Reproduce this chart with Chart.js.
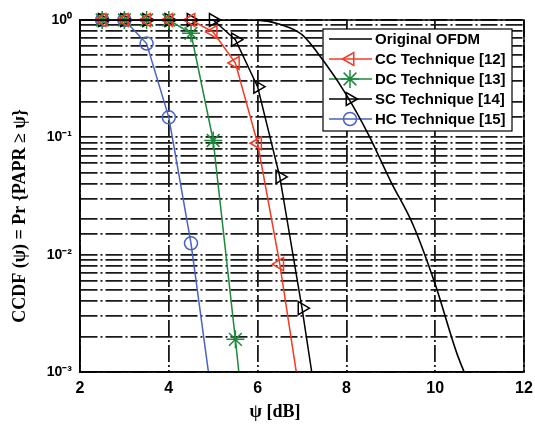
<!DOCTYPE html>
<html>
<head>
<meta charset="utf-8">
<script src="https://cdn.jsdelivr.net/npm/chart.js@4.4.0/dist/chart.umd.min.js"></script>
<style>
    html, body { margin: 0; padding: 0; background: #fff; }
    #wrap { width: 535px; height: 424px; position: relative; }
</style>
</head>
<body>
<div id="wrap"><canvas id="ccdfChart"></canvas></div>
<script>
// values (psi in dB, CCDF on log scale)
const psiMarkers = [2.5, 3, 3.5, 4, 4.5, 5, 5.5, 6, 6.5, 7, 7.5];
const ccValues = [1, 1, 1, 1, 1, 0.79, 0.43, 0.089, 0.0083, 0.00048, null];
const dcValues = [1, 1, 1, 1, 0.77, 0.094, 0.0019, 0.00003, null, null, null];
const scValues = [1, 1, 1, 1, 1, 1, 0.68, 0.27, 0.046, 0.0035, 0.0002];
const hcValues = [1, 1, 0.63, 0.148, 0.0125, 0.0005, null, null, null, null, null];

const psiOfdm = [2, 2.5, 3, 3.5, 4, 4.5, 5, 5.5, 6, 6.5, 7, 7.5, 8, 8.5, 9, 9.5, 10, 10.5, 11];
const ofdmValues = [1, 1, 1, 1, 1, 1, 1, 1, 0.995, 0.92, 0.75, 0.44, 0.23, 0.105, 0.042, 0.018, 0.0056, 0.0014, 0.0005];

const xTicks = [2, 4, 6, 8, 10, 12];
const yRange = [0.001, 1];
const seriesLabels = ['Original OFDM', 'CC Technique [12]', 'DC Technique [13]', 'SC Technique [14]', 'HC Technique [15]'];
const xTitle = 'ψ [dB]';
const yTitle = 'CCDF (ψ) = Pr {PAPR ≥ ψ}';

const RED = '#f53a24';
const GREEN = '#1f8a3c';
const BLUE = '#4b62c6';

function toPoints(xs, ys) {
    return xs.map((x, i) => ({ x: x, y: ys[i] }));
}

const supDigits = { '0': '⁰', '1': '¹', '2': '²', '3': '³', '-': '⁻' };
function powerLabel(value) {
    const e = Math.round(Math.log10(value) * 1e6) / 1e6;
    if (!Number.isInteger(e)) return '';
    return '10' + String(e).split('').map(c => supDigits[c]).join('');
}

const markerClip = { left: false, top: false, right: 0, bottom: 0 };

function markerSeries(label, values, color, style, rotation, radius) {
    return {
        label: label,
        data: toPoints(psiMarkers, values),
        borderColor: color,
        borderWidth: 1.5,
        pointStyle: style,
        rotation: rotation,
        pointRadius: radius,
        pointBorderWidth: 1.5,
        pointBorderColor: color,
        pointBackgroundColor: 'rgba(0,0,0,0)',
        clip: markerClip
    };
}

// legend drawn inside the axes, under the curves (as in the figure)
const legendBox = {
    id: 'legendBox',
    beforeDatasetsDraw(chart) {
        const ctx = chart.ctx;
        const area = chart.chartArea;
        const x0 = area.right - 201, y0 = area.top + 9, w = 189, h = 102;
        ctx.save();
        ctx.fillStyle = '#fff';
        ctx.fillRect(x0, y0, w, h);
        ctx.strokeStyle = '#000';
        ctx.lineWidth = 1.2;
        ctx.strokeRect(x0, y0, w, h);
        ctx.font = 'bold 15px "Liberation Sans", Arial, sans-serif';
        ctx.textBaseline = 'middle';
        chart.data.datasets.forEach((ds, i) => {
            const y = y0 + 10 + i * 20;
            ctx.strokeStyle = ds.borderColor;
            ctx.lineWidth = 1.5;
            ctx.beginPath();
            ctx.moveTo(x0 + 6, y);
            ctx.lineTo(x0 + 49, y);
            ctx.stroke();
            if (ds.pointRadius > 0) {
                ctx.fillStyle = 'rgba(0,0,0,0)';
                Chart.helpers.drawPoint(ctx, {
                    pointStyle: ds.pointStyle,
                    rotation: ds.rotation,
                    radius: ds.pointRadius,
                    borderWidth: 1.5
                }, x0 + 27, y);
            }
            ctx.fillStyle = '#000';
            ctx.fillText(ds.label, x0 + 52, y + 1);
        });
        ctx.restore();
    }
};

const frameAndTitles = {
    id: 'frameAndTitles',
    afterDraw(chart) {
        const ctx = chart.ctx;
        const area = chart.chartArea;
        ctx.save();
        ctx.strokeStyle = '#000';
        ctx.lineWidth = 1.5;
        ctx.strokeRect(area.left, area.top, area.right - area.left, area.bottom - area.top);
        ctx.fillStyle = '#000';
        ctx.font = 'bold 18px "Liberation Serif", "Times New Roman", serif';
        ctx.textAlign = 'center';
        ctx.textBaseline = 'middle';
        ctx.fillText(xTitle, 275, 412);
        ctx.translate(20, 216);
        ctx.rotate(-Math.PI / 2);
        ctx.fillText(yTitle, 0, 0);
        ctx.restore();
    }
};

const gridStyle = {
    color: '#1a1a1a',
    lineWidth: 1.8,
    drawTicks: false
};
const borderStyle = {
    color: '#000',
    width: 1.5,
    dash: [17, 3, 2, 3]
};

const ctx = document.getElementById('ccdfChart').getContext('2d');

const ccdfChart = new Chart(ctx, {
    type: 'line',
    data: {
        datasets: [
            {
                label: seriesLabels[0],
                data: toPoints(psiOfdm, ofdmValues),
                borderColor: '#000',
                borderWidth: 1.6,
                pointRadius: 0,
                cubicInterpolationMode: 'monotone',
                clip: 0
            },
            markerSeries(seriesLabels[1], ccValues, RED, 'triangle', -90, 7.5),
            markerSeries(seriesLabels[2], dcValues, GREEN, 'star', 0, 9),
            markerSeries(seriesLabels[3], scValues, '#000', 'triangle', 90, 7.5),
            markerSeries(seriesLabels[4], hcValues, BLUE, 'circle', 0, 6.5)
        ]
    },
    options: {
        responsive: true,
        maintainAspectRatio: false,
        animation: false,
        layout: {
            padding: { top: 20, right: 11, bottom: 0, left: 0 }
        },
        plugins: {
            legend: { display: false },
            tooltip: { enabled: false }
        },
        scales: {
            x: {
                type: 'linear',
                min: xTicks[0],
                max: xTicks[xTicks.length - 1],
                ticks: {
                    stepSize: 2,
                    color: '#000',
                    padding: 7,
                    maxRotation: 0,
                    font: { family: '"Liberation Sans", Arial, sans-serif', size: 16, weight: 'bold' }
                },
                grid: gridStyle,
                border: borderStyle,
                afterFit: function (scale) {
                    scale.height = 52;
                    scale.paddingLeft = 0;
                    scale.paddingRight = 0;
                }
            },
            y: {
                type: 'logarithmic',
                min: yRange[0],
                max: yRange[1],
                ticks: {
                    autoSkip: false,
                    color: '#000',
                    padding: 8,
                    font: { family: '"Liberation Sans", Arial, sans-serif', size: 14, weight: 'bold' },
                    callback: function (value) {
                        return powerLabel(value);
                    }
                },
                grid: gridStyle,
                border: borderStyle,
                afterFit: function (scale) {
                    scale.width = 80;
                    scale.paddingTop = 0;
                    scale.paddingBottom = 0;
                }
            }
        }
    },
    plugins: [legendBox, frameAndTitles]
});
</script>
</body>
</html>
